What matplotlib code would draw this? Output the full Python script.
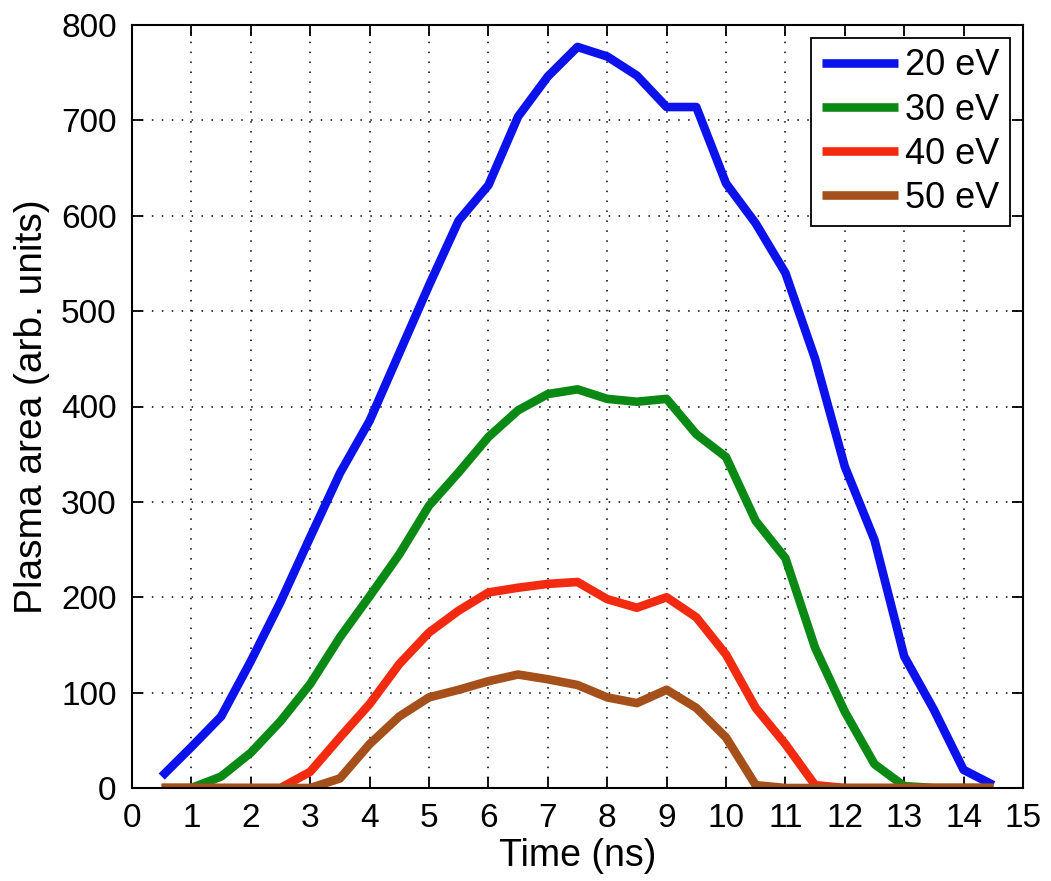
import numpy as np
import matplotlib
matplotlib.use("Agg")
import matplotlib.pyplot as plt

plt.rcParams['font.family'] = ['Liberation Sans', 'DejaVu Sans']

# Time axis (ns)
time_ns = [0.5, 1.0, 1.5, 2.0, 2.5, 3.0, 3.5, 4.0, 4.5, 5.0, 5.5, 6.0, 6.5, 7.0,
           7.5, 8.0, 8.5, 9.0, 9.5, 10.0, 10.5, 11.0, 11.5, 12.0, 12.5, 13.0,
           13.5, 14.0, 14.5]

# Plasma area for each electron energy
area_20eV = [12, 43, 75, 133, 195, 263, 330, 385, 456, 527, 595, 632, 704, 746,
             777, 767, 747, 714, 714, 634, 592, 540, 450, 337, 260, 138, 82, 19, 3]
area_30eV = [0, 0, 12, 37, 70, 109, 158, 201, 245, 296, 331, 368, 396, 413,
             418, 408, 405, 408, 371, 347, 280, 241, 147, 80, 25, 2, 0, 0, 0]
area_40eV = [0, 0, 0, 0, 0, 17, 53, 88, 130, 163, 186, 205, 210, 214,
             216, 198, 189, 200, 179, 140, 84, 46, 3, 0, 0, 0, 0, 0, 0]
area_50eV = [0, 0, 0, 0, 0, 0, 10, 46, 75, 95, 103, 112, 119, 114,
             108, 95, 89, 103, 84, 53, 3, 0, 0, 0, 0, 0, 0, 0, 0]

series_labels = ['20 eV', '30 eV', '40 eV', '50 eV']
series_colors = ['#0c12ec', '#0a8a14', '#f22a10', '#a5501a']

x_ticks = list(range(0, 16))
y_ticks = list(range(0, 801, 100))

fig = plt.figure(figsize=(10.51, 8.81), dpi=100)
ax = fig.add_axes([132 / 1051, 1 - 788 / 881, (1023 - 132) / 1051, (788 - 25) / 881])

for values, label, color in zip([area_20eV, area_30eV, area_40eV, area_50eV],
                                series_labels, series_colors):
    ax.plot(time_ns, values, color=color, lw=6.2, label=label,
            solid_joinstyle='round', solid_capstyle='butt')

ax.set_xlim(0, 15)
ax.set_ylim(0, 800)
ax.set_xticks(x_ticks)
ax.set_yticks(y_ticks)

ax.grid(True, color='black', linestyle=(0, (1, 5.5)), linewidth=1.1)
ax.tick_params(direction='in', length=8, width=1.3, top=True, right=True,
               labelsize=24, pad=11, colors='black')
for s in ax.spines.values():
    s.set_linewidth(1.5)
    s.set_color('black')

ax.set_xlabel('Time (ns)', fontsize=27, labelpad=3)
ax.set_ylabel('Plasma area (arb. units)', fontsize=28, labelpad=8)

leg = ax.legend(loc='upper right', fontsize=26, frameon=True, fancybox=False,
                edgecolor='black', framealpha=1, borderaxespad=0.35,
                handlelength=2.1, handletextpad=0.2, labelspacing=0.25,
                borderpad=0.3)
leg.get_frame().set_linewidth(1.3)

fig.savefig('out.png', dpi=100)
